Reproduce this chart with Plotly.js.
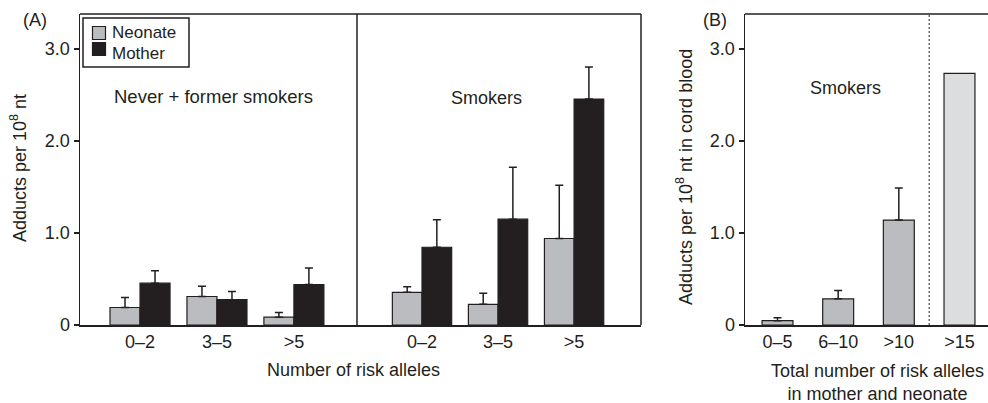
<!DOCTYPE html>
<html>
<head>
<meta charset="utf-8">
<script src="https://cdn.plot.ly/plotly-3.0.1.min.js"></script>
<style>html,body{margin:0;padding:0;background:#fff;}#chart{width:988px;height:403px;}</style>
</head>
<body>
<div id="chart"></div>
<script>
// ---- data ----
const alleleGroups = ['0–2', '3–5', '>5'];
const seriesNames = ['Neonate', 'Mother'];
const neverNeonate = [0.19, 0.31, 0.085];
const neverNeonateErr = [0.11, 0.11, 0.05];
const neverMother = [0.455, 0.275, 0.44];
const neverMotherErr = [0.135, 0.09, 0.18];
const smokNeonate = [0.355, 0.225, 0.94];
const smokNeonateErr = [0.06, 0.12, 0.58];
const smokMother = [0.845, 1.15, 2.455];
const smokMotherErr = [0.30, 0.565, 0.35];
const totalGroups = ['0–5', '6–10', '>10', '>15'];
const cordBlood = [0.047, 0.285, 1.14, 2.735];
const cordBloodErr = [0.033, 0.09, 0.35, null];

// ---- styling / layout helpers ----
const W = 988, H = 403;
const px = v => v / W;
const py = v => 1 - v / H;
const DARK = '#231f20';
const GREY = '#bbbcbf';
const LIGHT = '#dcdddf';
const FONT = 'Liberation Sans, Arial, sans-serif';
const yDom = [py(325), py(14)];

function errY(arr) {
  return {type: 'data', symmetric: false,
          array: arr.map(v => v == null ? NaN : v),
          arrayminus: arr.map(v => v == null ? NaN : 0),
          color: DARK, thickness: 1.5, width: 4};
}
function barTrace(name, x, y, err, color, xa, ya) {
  return {type: 'bar', name: name, x: x, y: y, xaxis: xa, yaxis: ya, showlegend: false,
          marker: {color: color, line: {color: DARK, width: 1.2}}, error_y: errY(err)};
}

const data = [
  barTrace(seriesNames[0], alleleGroups, neverNeonate, neverNeonateErr, GREY, 'x', 'y'),
  barTrace(seriesNames[1], alleleGroups, neverMother, neverMotherErr, DARK, 'x', 'y'),
  barTrace(seriesNames[0], alleleGroups, smokNeonate, smokNeonateErr, GREY, 'x2', 'y'),
  barTrace(seriesNames[1], alleleGroups, smokMother, smokMotherErr, DARK, 'x2', 'y'),
  Object.assign(barTrace('Total', totalGroups, cordBlood, cordBloodErr,
      totalGroups.map((g, i) => i === totalGroups.length - 1 ? LIGHT : GREY), 'x3', 'y2'),
      {width: 0.51})
];

const xCommon = {type: 'category', showline: true, linecolor: DARK, linewidth: 1.5, ticks: '',
  showgrid: false, zeroline: false, tickfont: {family: FONT, size: 18, color: DARK}, fixedrange: true};
const yCommon = {range: [0, 3.38], tickvals: [0, 1, 2, 3], ticktext: ['0', '1.0', '2.0', '3.0'],
  ticks: 'outside', ticklen: 5, tickwidth: 1.5, tickcolor: DARK, showline: true, linecolor: DARK,
  linewidth: 1.5, showgrid: false, zeroline: false, tickfont: {family: FONT, size: 18, color: DARK}, domain: yDom};

const lineShape = (x0, y0, x1, y1, extra) => Object.assign({type: 'line', xref: 'paper', yref: 'paper',
  x0: x0, y0: y0, x1: x1, y1: y1, line: {color: DARK, width: 1.5}}, extra || {});
const rectShape = (x0, y0, x1, y1, fill, lw) => ({type: 'rect', xref: 'paper', yref: 'paper',
  x0: px(x0), x1: px(x1), y0: py(y1), y1: py(y0), fillcolor: fill, line: {color: DARK, width: lw}});

const ann = (text, x, y, opts) => Object.assign({text: text, xref: 'paper', yref: 'paper', x: px(x), y: py(y),
  xanchor: 'center', yanchor: 'middle', showarrow: false, font: {family: FONT, size: 18, color: DARK}}, opts || {});

const layout = {
  width: W, height: H,
  margin: {l: 0, r: 0, t: 0, b: 0},
  paper_bgcolor: '#fff', plot_bgcolor: 'rgba(0,0,0,0)',
  barmode: 'group', bargap: 0.22, bargroupgap: 0,
  font: {family: FONT, color: DARK},
  showlegend: false,
  xaxis: Object.assign({}, xCommon, {domain: [px(80), px(357)], range: [-0.78, 2.82], anchor: 'y'}),
  xaxis2: Object.assign({}, xCommon, {domain: [px(357), px(641)], range: [-0.855, 2.88], anchor: 'y'}),
  xaxis3: Object.assign({}, xCommon, {domain: [px(745), 1], range: [-0.536, 3.47], anchor: 'y2'}),
  yaxis: Object.assign({}, yCommon, {anchor: 'x'}),
  yaxis2: Object.assign({}, yCommon, {anchor: 'x3'}),
  shapes: [
    lineShape(px(80), yDom[1], px(641), yDom[1]),
    lineShape(px(641), yDom[0], px(641), yDom[1]),
    lineShape(px(357), yDom[0], px(357), yDom[1]),
    lineShape(px(745), yDom[1], 1, yDom[1]),
    {type: 'line', xref: 'x3', yref: 'paper', x0: 2.5, x1: 2.5, y0: yDom[0], y1: yDom[1],
     line: {color: DARK, width: 1, dash: '2px,2px'}},
    // legend box and swatches
    rectShape(83, 18, 189, 67, '#fff', 1.5),
    rectShape(92.5, 26.5, 105.5, 39.5, GREY, 1.2),
    rectShape(92.5, 42.5, 105.5, 55.5, DARK, 1.2)
  ],
  annotations: [
    ann(seriesNames[0], 110, 32.5, {xanchor: 'left', font: {family: FONT, size: 17, color: DARK}}),
    ann(seriesNames[1], 110, 53, {xanchor: 'left', font: {family: FONT, size: 17, color: DARK}}),
    ann('(A)', 35, 20),
    ann('(B)', 715, 20),
    ann('Never + former smokers', 213.5, 97, {font: {family: FONT, size: 18.5, color: DARK}}),
    ann('Smokers', 486, 98),
    ann('Smokers', 845.5, 88),
    ann('Number of risk alleles', 353, 370),
    ann('Total number of risk alleles<br>in mother and neonate', 877, 382),
    ann('Adducts per 10<sup>8</sup> nt', 19, 168, {textangle: -90}),
    ann('Adducts per 10<sup>8</sup> nt in cord blood', 684, 177, {textangle: -90})
  ]
};

Plotly.newPlot('chart', data, layout, {staticPlot: true, displayModeBar: false});
</script>
</body>
</html>
